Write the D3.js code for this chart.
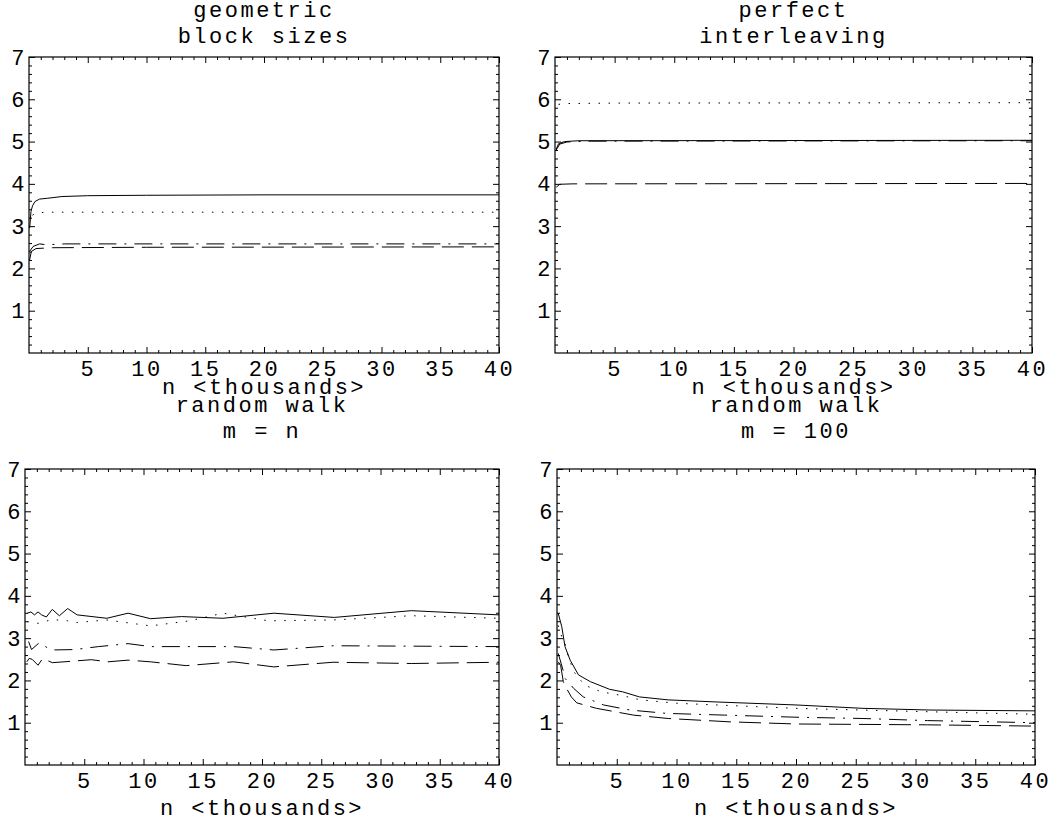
<!DOCTYPE html>
<html>
<head>
<meta charset="utf-8">
<script src="https://cdn.jsdelivr.net/npm/d3@7"></script>
<style>
  html, body { margin: 0; padding: 0; background: #fff; }
  svg { display: block; }
  text { font-family: 'Liberation Mono', 'Courier New', monospace; fill: #000; }
</style>
</head>
<body>
<svg id="chart" width="1055" height="822"></svg>
<script>
// Panel titles and axis label
const titles = [
    ['geometric', 'block sizes'],
    ['perfect', 'interleaving'],
    ['random walk', 'm = n'],
    ['random walk', 'm = 100']
];
const xLabel = 'n <thousands>';
const xMajorTicks = [5, 10, 15, 20, 25, 30, 35, 40];
const yMajorTicks = [1, 2, 3, 4, 5, 6, 7];

// Series values: [n (thousands), value]
// geometric block sizes
const geoSolid = [[0.05, 2.95], [0.1, 3.1], [0.17, 3.35], [0.3, 3.48], [0.5, 3.58], [0.9, 3.64], [1.6, 3.66], [2.8, 3.70], [5, 3.72], [10, 3.73], [20, 3.74], [40, 3.74]];
const geoDotted = [[0.3, 3.26], [0.6, 3.31], [1.5, 3.33], [5, 3.33], [40, 3.33]];
const geoDashDot = [[0.05, 2.40], [0.35, 2.52], [0.9, 2.58], [1.5, 2.56], [3, 2.58], [40, 2.58]];
const geoDashed = [[0.05, 2.20], [0.2, 2.40], [0.6, 2.47], [2, 2.49], [10, 2.50], [40, 2.51]];

// perfect interleaving
const perfSolid = [[0.1, 4.82], [0.3, 4.95], [0.8, 5.00], [2, 5.02], [40, 5.03]];
const perfDotted = [[0.3, 5.88], [1, 5.90], [5, 5.91], [40, 5.92]];
const perfDashDot = [[0.1, 4.80], [0.4, 4.94], [1, 4.99], [3, 5.01], [40, 5.02]];
const perfDashed = [[0.1, 3.92], [0.4, 3.99], [1.5, 4.00], [40, 4.01]];

// random walk, m = n
const rwnSolid = [[0.2, 3.59], [0.5, 3.62], [0.8, 3.55], [1.1, 3.62], [1.4, 3.55], [1.8, 3.50], [2.3, 3.68], [2.9, 3.53], [3.6, 3.70], [4.4, 3.55], [6.9, 3.47], [8.7, 3.59], [10.6, 3.46], [13.2, 3.51], [16.7, 3.47], [21.0, 3.59], [26.1, 3.49], [32.6, 3.65], [40, 3.55]];
const rwnDotted = [[0.2, 3.39], [1.1, 3.35], [2.3, 3.44], [3.6, 3.41], [4.4, 3.37], [6.9, 3.43], [10.6, 3.29], [13.9, 3.41], [16.7, 3.59], [20.5, 3.41], [26, 3.43], [32.6, 3.53], [40, 3.47]];
const rwnDashDot = [[0.3, 2.92], [0.55, 2.73], [1.2, 2.89], [2.2, 2.72], [4.2, 2.73], [6.2, 2.80], [8.7, 2.87], [10.6, 2.80], [17.6, 2.80], [21, 2.72], [26, 2.82], [40, 2.80]];
const rwnDashed = [[0.15, 2.44], [0.35, 2.52], [0.6, 2.50], [1.1, 2.36], [1.5, 2.52], [2.3, 2.42], [3.3, 2.44], [5.6, 2.49], [7, 2.44], [8.7, 2.48], [10.6, 2.44], [13.6, 2.35], [17.6, 2.44], [21, 2.32], [26, 2.43], [32.6, 2.40], [40, 2.43]];

// random walk, m = 100
const rw100Solid = [[0.1, 3.59], [0.4, 3.27], [0.67, 2.80], [1.1, 2.48], [1.8, 2.13], [2.8, 1.97], [4.4, 1.79], [5.5, 1.73], [6.9, 1.61], [9.3, 1.54], [13.4, 1.49], [20, 1.42], [25.6, 1.34], [31.2, 1.30], [40, 1.28]];
const rw100Dotted = [[0.1, 3.30], [0.4, 3.03], [0.67, 2.88], [0.95, 2.56], [1.4, 2.21], [2.3, 1.89], [3.7, 1.73], [5.3, 1.65], [7, 1.54], [10, 1.46], [20, 1.34], [31, 1.26], [40, 1.20]];
const rw100DashDot = [[0.1, 2.64], [0.5, 2.25], [0.67, 2.05], [1.4, 1.81], [2.2, 1.61], [3.9, 1.42], [6.1, 1.30], [9.2, 1.22], [14, 1.18], [20, 1.13], [25.6, 1.10], [31, 1.05], [40, 1.00]];
const rw100Dashed = [[0.1, 2.44], [0.3, 2.36], [0.53, 1.97], [0.8, 1.81], [1.2, 1.61], [1.65, 1.47], [3.3, 1.34], [6.4, 1.18], [9.3, 1.10], [14.5, 1.02], [20, 0.97], [31, 0.95], [40, 0.92]];

const panelSeries = [
    [geoSolid, geoDotted, geoDashDot, geoDashed],
    [perfSolid, perfDotted, perfDashDot, perfDashed],
    [rwnSolid, rwnDotted, rwnDashDot, rwnDashed],
    [rw100Solid, rw100Dotted, rw100DashDot, rw100Dashed]
];

// solid, dotted, dash-dot, dashed
const dashStyles = [null, '1.5,8.5', '18,8,2,8', '22,8'];

// frame boxes of the four panels
const frames = [
    { left: 29, right: 499, top: 57, bottom: 353, titleY: 17, labelY: 394 },
    { left: 555, right: 1032, top: 57, bottom: 353, titleY: 17, labelY: 394 },
    { left: 25, right: 499, top: 469, bottom: 765, titleY: 412, labelY: 815 },
    { left: 557, right: 1035, top: 469, bottom: 765, titleY: 412, labelY: 815 }
];

const fontSize = 22;
const letterSpacing = 2.5;
const svg = d3.select('#chart');

frames.forEach((f, i) => {
    const x = d3.scaleLinear().domain([0, 40]).range([f.left, f.right]);
    const y = d3.scaleLinear().domain([0, 7]).range([f.bottom, f.top]);

    const xMinor = d3.range(0, 41, 1).filter(v => v % 5 !== 0);
    const yMinor = d3.range(0, 35, 1).filter(k => k % 5 !== 0).map(k => k / 5);

    const g = svg.append('g');

    // Minor ticks on all four sides, pointing inward
    g.append('g').attr('transform', `translate(0,${f.bottom})`)
        .call(d3.axisBottom(x).tickValues(xMinor).tickSizeInner(-3).tickSizeOuter(0).tickFormat(''));
    g.append('g').attr('transform', `translate(0,${f.top})`)
        .call(d3.axisTop(x).tickValues(xMinor).tickSizeInner(-3).tickSizeOuter(0).tickFormat(''));
    g.append('g').attr('transform', `translate(${f.left},0)`)
        .call(d3.axisLeft(y).tickValues(yMinor).tickSizeInner(-3).tickSizeOuter(0).tickFormat(''));
    g.append('g').attr('transform', `translate(${f.right},0)`)
        .call(d3.axisRight(y).tickValues(yMinor).tickSizeInner(-3).tickSizeOuter(0).tickFormat(''));

    // Major ticks
    g.append('g').attr('class', 'x-axis').attr('transform', `translate(0,${f.bottom})`)
        .call(d3.axisBottom(x).tickValues(xMajorTicks).tickSizeInner(-6).tickSizeOuter(0)
            .tickPadding(7).tickFormat(d3.format('d')));
    g.append('g').attr('transform', `translate(0,${f.top})`)
        .call(d3.axisTop(x).tickValues(xMajorTicks).tickSizeInner(-6).tickSizeOuter(0).tickFormat(''));
    g.append('g').attr('class', 'y-axis').attr('transform', `translate(${f.left},0)`)
        .call(d3.axisLeft(y).tickValues(yMajorTicks).tickSizeInner(-6).tickSizeOuter(0)
            .tickPadding(2).tickFormat(d3.format('d')));
    g.append('g').attr('transform', `translate(${f.right},0)`)
        .call(d3.axisRight(y).tickValues(yMajorTicks).tickSizeInner(-6).tickSizeOuter(0).tickFormat(''));

    g.selectAll('.domain').remove();
    g.selectAll('.tick line').attr('stroke', '#000').attr('stroke-width', 1);
    g.selectAll('.tick text')
        .style('font-family', "'Liberation Mono', 'Courier New', monospace")
        .style('font-size', fontSize + 'px')
        .style('letter-spacing', letterSpacing + 'px')
        .attr('fill', '#000');

    // Frame
    g.append('rect')
        .attr('x', f.left).attr('y', f.top)
        .attr('width', f.right - f.left).attr('height', f.bottom - f.top)
        .attr('fill', 'none').attr('stroke', '#000').attr('stroke-width', 1.2);

    // Series
    const line = d3.line().x(d => x(d[0])).y(d => y(d[1]));
    panelSeries[i].forEach((s, k) => {
        g.append('path')
            .datum(s)
            .attr('d', line)
            .attr('fill', 'none')
            .attr('stroke', '#000')
            .attr('stroke-width', 1)
            .attr('stroke-dasharray', dashStyles[k]);
    });

    // Title (two lines)
    const cx = (f.left + f.right) / 2;
    titles[i].forEach((t, k) => {
        svg.append('text')
            .attr('x', cx)
            .attr('y', f.titleY + k * 26)
            .attr('text-anchor', 'middle')
            .style('font-size', fontSize + 'px')
            .style('letter-spacing', letterSpacing + 'px')
            .text(t);
    });

    // X axis label
    svg.append('text')
        .attr('x', cx)
        .attr('y', f.labelY)
        .attr('text-anchor', 'middle')
        .style('font-size', fontSize + 'px')
        .style('letter-spacing', letterSpacing + 'px')
        .text(xLabel);
});
</script>
</body>
</html>
